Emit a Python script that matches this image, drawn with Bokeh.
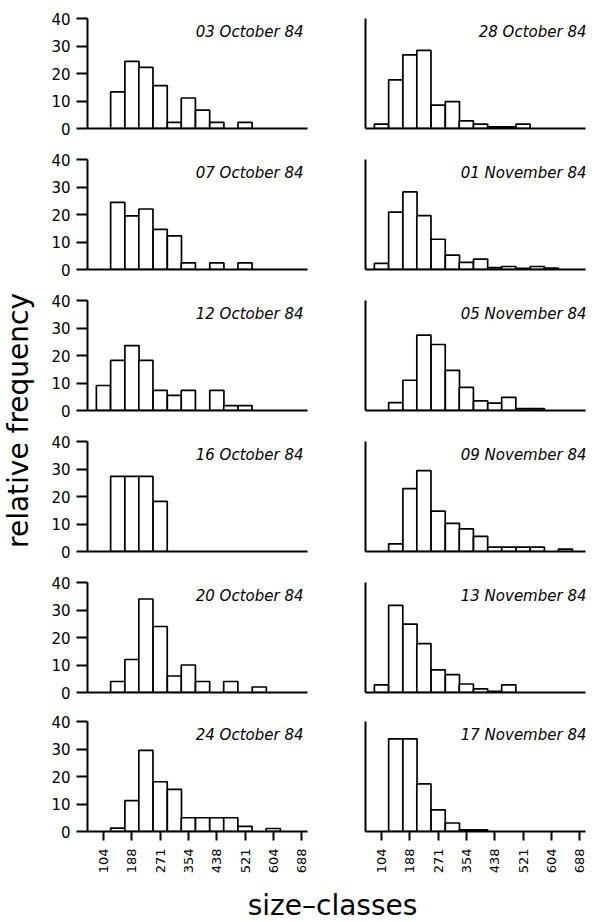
import math
from bokeh.plotting import figure
from bokeh.models import ColumnDataSource, Range1d, FixedTicker, Label
from bokeh.layouts import row, column
from bokeh.embed import file_html
from bokeh.resources import INLINE

# ---- data -------------------------------------------------------------
classes = [104, 146, 188, 229, 271, 313, 354, 396, 438, 479, 521, 563, 604, 646, 688]
tick_values = [104, 188, 271, 354, 438, 521, 604, 688]
tick_labels = ["104", "188", "271", "354", "438", "521", "604", "688"]
class_width = 41.7

left_dates = ["03 October 84", "07 October 84", "12 October 84",
              "16 October 84", "20 October 84", "24 October 84"]
right_dates = ["28 October 84", "01 November 84", "05 November 84",
               "09 November 84", "13 November 84", "17 November 84"]

oct03 = [0, 13.3, 24.4, 22.2, 15.6, 2.2, 11.1, 6.7, 2.2, 0, 2.2, 0, 0, 0, 0]
oct07 = [0, 24.4, 19.5, 22.0, 14.6, 12.2, 2.4, 0, 2.4, 0, 2.4, 0, 0, 0, 0]
oct12 = [9.1, 18.2, 23.6, 18.2, 7.3, 5.5, 7.3, 0, 7.3, 1.8, 1.8, 0, 0, 0, 0]
oct16 = [0, 27.3, 27.3, 27.3, 18.2, 0, 0, 0, 0, 0, 0, 0, 0, 0, 0]
oct20 = [0, 4.0, 12.0, 34.0, 24.0, 6.0, 10.0, 4.0, 0, 4.0, 0, 2.0, 0, 0, 0]
oct24 = [0, 1.2, 11.2, 29.5, 18.1, 15.3, 5.0, 5.0, 5.0, 5.0, 1.9, 0, 1.1, 0, 0]

oct28 = [1.6, 17.7, 26.8, 28.4, 8.5, 9.8, 2.8, 1.6, 0.6, 0.6, 1.6, 0, 0, 0, 0]
nov01 = [2.2, 20.9, 28.2, 19.6, 11.0, 5.2, 2.6, 3.8, 0.7, 1.1, 0.4, 1.1, 0.5, 0, 0]
nov05 = [0, 2.9, 11.0, 27.4, 24.0, 14.6, 8.4, 3.5, 2.7, 4.8, 0.7, 0.7, 0, 0, 0]
nov09 = [0, 2.8, 22.9, 29.4, 14.7, 10.2, 8.2, 5.5, 1.6, 1.6, 1.6, 1.6, 0, 0.9, 0]
nov13 = [2.8, 31.7, 24.9, 17.8, 8.2, 6.5, 3.1, 1.3, 0.4, 2.8, 0, 0, 0, 0, 0]
nov17 = [0, 33.7, 33.7, 17.3, 7.9, 3.1, 0.6, 0.6, 0, 0, 0, 0, 0, 0, 0]

left_series = [oct03, oct07, oct12, oct16, oct20, oct24]
right_series = [oct28, nov01, nov05, nov09, nov13, nov17]

y_ticks = [0, 10, 20, 30, 40]

FONT = "DejaVu Sans"


def panel(date, vals, is_left, is_bottom):
    width = 280 if is_left else 277
    bl = 47 if is_left else 45
    br = 13 if is_left else 12
    bt = 16 if is_bottom else 18
    bb = 49 if is_bottom else 13
    height = bt + 110 + bb
    p = figure(width=width, height=height,
               x_range=Range1d(57, 705), y_range=Range1d(0, 40),
               output_backend="svg", toolbar_location=None,
               min_border_left=bl, min_border_right=br,
               min_border_top=bt, min_border_bottom=bb)
    p.outline_line_color = None
    p.xgrid.visible = False
    p.ygrid.visible = False

    xs = [c for c, v in zip(classes, vals) if v > 0]
    ts = [v for v in vals if v > 0]
    src = ColumnDataSource(dict(x=xs, top=ts))
    p.vbar(x="x", top="top", bottom=0, width=class_width, source=src,
           fill_color="white", line_color="black", line_width=1.7)

    # x axis
    xa = p.xaxis[0]
    xa.axis_line_width = 2
    xa.axis_line_color = "black"
    if is_bottom:
        xa.ticker = FixedTicker(ticks=tick_values)
        xa.major_label_overrides = {v: l for v, l in zip(tick_values, tick_labels)}
        xa.major_label_orientation = math.pi / 2
        xa.major_tick_out = 9
        xa.major_tick_in = 0
        xa.major_tick_line_width = 2
        xa.major_label_standoff = 8
        xa.major_label_text_font = FONT
        xa.major_label_text_font_size = "13px"
        xa.major_label_text_color = "black"
    else:
        xa.ticker = FixedTicker(ticks=[])
    xa.minor_tick_line_color = None

    # y axis
    ya = p.yaxis[0]
    ya.axis_line_width = 2
    ya.axis_line_color = "black"
    if is_left:
        ya.ticker = FixedTicker(ticks=y_ticks)
        ya.major_tick_out = 11
        ya.major_tick_in = 0
        ya.major_tick_line_width = 2
        ya.major_label_standoff = 6
        ya.major_label_text_font = FONT
        ya.major_label_text_font_size = "15px"
        ya.major_label_text_color = "black"
    else:
        ya.ticker = FixedTicker(ticks=[])
    ya.minor_tick_line_color = None

    p.add_layout(Label(x=705, y=40, x_offset=-4 if is_left else 1, y_offset=-13,
                       text=date, text_font=FONT, text_font_style="italic",
                       text_font_size="15px", text_align="right",
                       text_baseline="middle", text_color="black"))
    return p


rows = []
for i in range(6):
    bottom = (i == 5)
    lp = panel(left_dates[i], left_series[i], True, bottom)
    rp = panel(right_dates[i], right_series[i], False, bottom)
    rows.append(row(lp, rp))

ylab = figure(width=40, height=880, x_range=Range1d(0, 40), y_range=Range1d(0, 880),
              output_backend="svg", toolbar_location=None, min_border=0,
              x_axis_location=None, y_axis_location=None)
ylab.outline_line_color = None
ylab.xgrid.visible = False
ylab.ygrid.visible = False
ylab.add_layout(Label(x=18, y=460, angle=math.pi / 2, text="relative frequency",
                      text_font=FONT, text_font_size="28px", text_align="center",
                      text_baseline="middle", text_color="black"))

xlab = figure(width=597, height=42, x_range=Range1d(0, 597), y_range=Range1d(0, 42),
              output_backend="svg", toolbar_location=None, min_border=0,
              x_axis_location=None, y_axis_location=None)
xlab.outline_line_color = None
xlab.xgrid.visible = False
xlab.ygrid.visible = False
xlab.add_layout(Label(x=332, y=17, text="size\u2013classes",
                      text_font=FONT, text_font_size="28px", text_align="center",
                      text_baseline="middle", text_color="black"))

layout = column(row(ylab, column(*rows)), xlab)

open("out.html", "w").write(file_html(layout, INLINE))
